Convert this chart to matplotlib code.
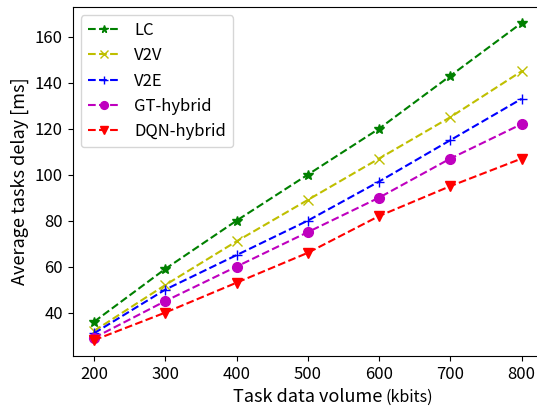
import matplotlib
matplotlib.use('Agg')
import matplotlib.pyplot as plt

plt.rcParams['font.family'] = ['Noto Sans CJK SC', 'DejaVu Sans']

# task data volume (kbits)
volume = [200, 300, 400, 500, 600, 700, 800]

# average delay per scheme (ms)
lc = [36, 59, 80, 100, 120, 143, 166]
v2v = [32, 52, 71, 89, 107, 125, 145]
v2e = [31, 50, 65, 80, 97, 115, 133]
gt_hybrid = [29, 45, 60, 75, 90, 107, 122]
dqn_hybrid = [28, 40, 53, 66, 82, 95, 107]

fig = plt.figure(figsize=(5.37, 4.09), dpi=100)
ax = fig.add_axes([72.7/537, 1-356/409, (543.1-72.7)/537, (356-7)/409])

ax.plot(volume, lc, 'g--', marker='*', markersize=7, label='LC')
ax.plot(volume, v2v, 'y--', marker='x', markersize=7, label='V2V')
ax.plot(volume, v2e, 'b--', marker='+', markersize=7, label='V2E')
ax.plot(volume, gt_hybrid, 'm--', marker='o', markersize=7, label='GT-hybrid')
ax.plot(volume, dqn_hybrid, 'r--', marker='v', markersize=7, label='DQN-hybrid')

ax.set_xticks(volume)
ax.tick_params(labelsize=12)
ax.set_ylabel('Average tasks delay [ms]', fontsize=13)
xl = ax.set_xlabel('Task data volume', fontsize=13)
ax.annotate('(kbits)', xy=(1, 0), xycoords=xl, xytext=(2, 0),
            textcoords='offset points', fontsize=11.5, va='bottom')

ax.legend(loc='upper left', fontsize=12, markerscale=0.8)

fig.savefig('out.png', dpi=100)
